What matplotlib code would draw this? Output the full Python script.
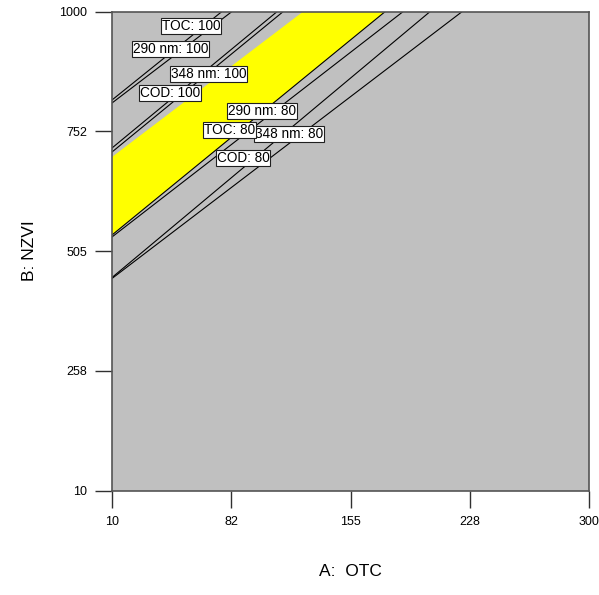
import matplotlib
matplotlib.use("Agg")
import matplotlib.pyplot as plt
import numpy as np

plt.rcParams['font.family'] = ['Liberation Sans', 'DejaVu Sans']

# axis ranges and ticks
a_min, a_max = 10, 300
b_min, b_max = 10, 1000
a_ticks = [10, 82.5, 155, 227.5, 300]
a_ticklabels = ["10", "82", "155", "228", "300"]
b_ticks = [10, 257.5, 505, 752.5, 1000]
b_ticklabels = ["10", "258", "505", "752", "1000"]

# contour lines: B where line meets A = 10, A where line meets B = 1000
line_names = ["TOC: 100", "290 nm: 100", "348 nm: 100", "COD: 100",
              "COD: 80", "290 nm: 80", "TOC: 80", "348 nm: 80"]
line_b_left = [817.5, 811.3, 718.3, 710.0, 538.5, 534.4, 450.6, 448.6]
line_a_top = [76.7, 82.8, 110.3, 114.0, 176.0, 186.9, 203.3, 222.8]

# feasible (yellow) window edges
win_b_left = [699.7, 538.5]
win_a_top = [126.1, 176.0]

# flag labels (text, A, B) - drawn in this order
label_text = ["TOC: 100", "290 nm: 100", "348 nm: 100", "COD: 100",
              "290 nm: 80", "348 nm: 80", "TOC: 80", "COD: 80"]
label_a = [58.0, 45.4, 68.7, 45.4, 101.2, 117.4, 81.7, 89.6]
label_b = [969.8, 922.3, 871.2, 832.0, 795.4, 747.2, 756.1, 697.6]

fig = plt.figure(figsize=(5.99, 5.95), dpi=100)
ax = fig.add_axes([112 / 599, 1 - 490.7 / 595, 477 / 599, 479 / 595])
ax.set_facecolor('#c0c0c0')

# yellow window
poly_a = [a_min, win_a_top[0], win_a_top[1], a_min]
poly_b = [win_b_left[0], b_max, b_max, win_b_left[1]]
ax.fill(poly_a, poly_b, color='#ffff00', lw=0, zorder=1)

# contour lines
for bl, at in zip(line_b_left, line_a_top):
    ax.plot([a_min, at], [bl, b_max], color='black', lw=0.8, zorder=2)

# flags
for t, xa, yb in zip(label_text, label_a, label_b):
    ax.text(xa, yb, t, fontsize=9.8, ha='center', va='center', zorder=3,
            bbox=dict(boxstyle='square,pad=0.07', fc='white', ec='#202020', lw=0.8))

ax.set_xlim(a_min, a_max)
ax.set_ylim(b_min, b_max)
ax.set_xticks(a_ticks)
ax.set_xticklabels(a_ticklabels)
ax.set_yticks(b_ticks)
ax.set_yticklabels(b_ticklabels)
ax.tick_params(direction='out', length=12, width=1, color='#303030',
               labelsize=9, pad=6)

for side in ['left', 'top', 'right', 'bottom']:
    ax.spines[side].set_color('#555555')
    ax.spines[side].set_linewidth(1.2)

fig.text(350 / 599, 1 - 572 / 595, "A:  OTC", fontsize=12.5, ha='center', va='center')
fig.text(30 / 599, 1 - 251 / 595, "B: NZVI", fontsize=12.5, ha='center', va='center',
         rotation=90)

fig.savefig("out.png", dpi=100)
